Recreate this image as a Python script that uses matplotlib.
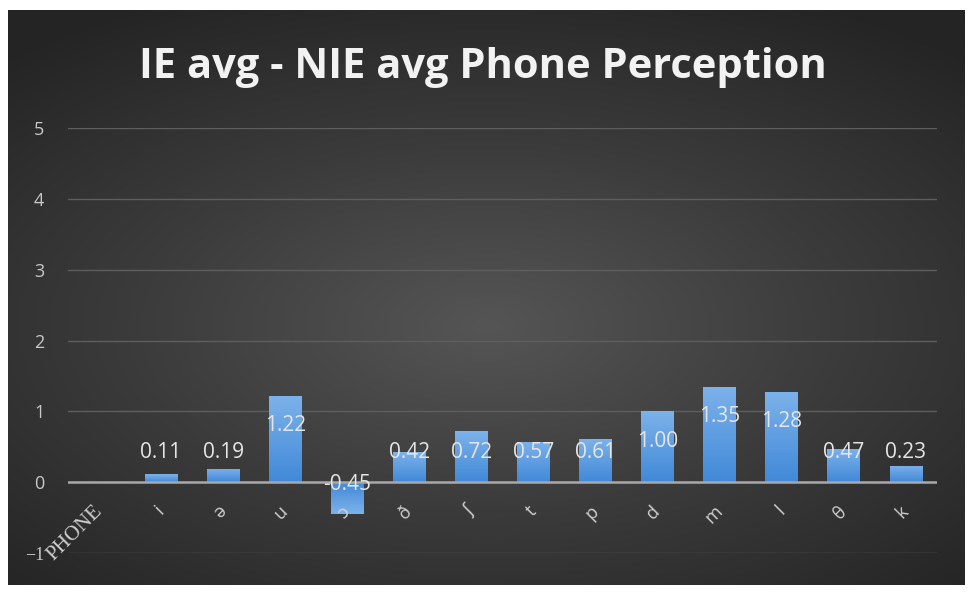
import numpy as np
import matplotlib.pyplot as plt
from matplotlib.colors import LinearSegmentedColormap

phones = ["PHONE", "i", "ə", "u", "ɔ", "ð", "ʃ", "t", "p", "d", "m", "l", "θ", "k"]
diffs = [np.nan, 0.11, 0.19, 1.22, -0.45, 0.42, 0.72, 0.57, 0.61, 1.00, 1.35, 1.28, 0.47, 0.23]
yticks = [-1, 0, 1, 2, 3, 4, 5]

plt.rcParams["font.family"] = ["Open Sans", "DejaVu Sans"]

fig = plt.figure(figsize=(9.73, 5.92), dpi=100)
fig.patch.set_facecolor("white")

# dark radial background of the chart area
bg = fig.add_axes([8 / 973, 7 / 592, 957 / 973, 575 / 592])
yy, xx = np.mgrid[-1:1:300j, -1:1:400j]
r = np.sqrt((xx * 0.9) ** 2 + ((yy - 0.1) * 1.05) ** 2)
bg.imshow(r, cmap=LinearSegmentedColormap.from_list("bg", ["#555555", "#3b3b3b", "#242424"]),
          aspect="auto", extent=[0, 1, 0, 1], vmin=0, vmax=1.35)
bg.set_axis_off()

ax = fig.add_axes([68 / 973, 39 / 592, 869 / 973, 425 / 592])
ax.patch.set_alpha(0)
x = np.arange(len(phones))
vals = np.array(diffs)
bars = ax.bar(x, np.nan_to_num(vals), width=0.53, color="#5b9bd5", zorder=3)

grad = LinearSegmentedColormap.from_list("bar", ["#4289d8", "#7cb2ea"])
for b, v in zip(bars, vals):
    if np.isnan(v):
        continue
    x0, w = b.get_x(), b.get_width()
    lo, hi = min(0, v), max(0, v)
    g = np.linspace(0, 1, 50).reshape(-1, 1)
    if v < 0:
        g = g[::-1]
    im = ax.imshow(g, cmap=grad, aspect="auto", origin="lower",
                   extent=[x0, x0 + w, lo, hi], zorder=3)
    im.set_clip_path(b)
    b.set_alpha(0)
    ty = max(v - 0.42, 0.42) if v >= 0 else v + 0.42
    ax.text(b.get_x() + w / 2, ty, f"{v:.2f}", ha="center", va="center",
            color="#e6e6e6", fontsize=15, zorder=5)

ax.set_xlim(-0.5, len(phones) - 0.5)
ax.set_ylim(-1, 5)
ax.set_yticks(yticks)
ax.grid(axis="y", color="#5e5e5e", linewidth=1, zorder=1)
ax.axhline(0, color="#a8a8a8", linewidth=1.8, zorder=4)
for s in ax.spines.values():
    s.set_visible(False)
ax.spines["bottom"].set_position(("data", 0))
ax.tick_params(length=0, colors="#c8c8c8", labelsize=13)
ax.tick_params(axis="y", pad=17)
ax.set_xticks(x)
ax.set_xticklabels(phones, rotation=45, ha="right", va="center",
                   rotation_mode="anchor", color="#d0d0d0")
ax.tick_params(axis="x", pad=19)
ax.xaxis.set_zorder(6)  # category labels sit on top of the negative bar
# Excel fell back to a serif face for these two labels
ax.get_xticklabels()[0].set_family("Liberation Serif")
ax.get_xticklabels()[0].set_fontsize(15)
ax.get_yticklabels()[0].set_family("Liberation Serif")

fig.text(483 / 973, 1 - 68 / 592, "IE avg - NIE avg Phone Perception", ha="center", va="center",
         color="#f2f2f2", fontsize=30, fontweight="bold")

fig.savefig("out.png", dpi=100, facecolor="white")
